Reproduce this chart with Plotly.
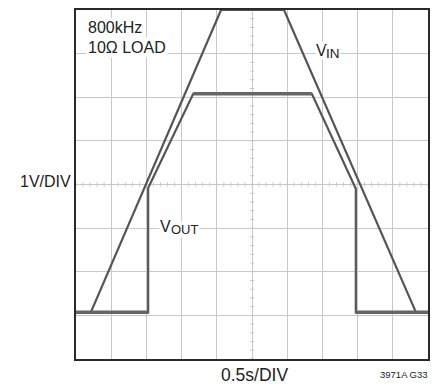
import plotly.graph_objects as go

# Data in scope divisions (x: 0.5 s/div, y: 1 V/div)
vin_x = [0.0, 0.42, 4.12, 5.91, 9.66, 10.0]
vin_y = [1.07, 1.07, 8.0, 8.0, 1.07, 1.07]

vout_x = [0.0, 2.05, 2.05, 3.33, 6.70, 7.95, 7.95, 10.0]
vout_y = [1.07, 1.07, 3.92, 6.08, 6.08, 3.90, 1.07, 1.07]

x_ticks = list(range(0, 11))
y_ticks = list(range(0, 9))

FONT = "Liberation Sans, Arial, sans-serif"
TRACE = "#555555"
GRID = "#c8c8c8"
INK = "#222222"

fig = go.Figure()

fig.add_trace(go.Scatter(x=vin_x, y=vin_y, mode="lines",
                         line=dict(color=TRACE, width=2.2),
                         showlegend=False, hoverinfo="skip"))
fig.add_trace(go.Scatter(x=vout_x, y=vout_y, mode="lines",
                         line=dict(color=TRACE, width=2.2),
                         showlegend=False, hoverinfo="skip"))
# noisy flat portions of VOUT drawn thicker
for a, b in [(0, 2), (3, 5), (6, 8)]:
    fig.add_trace(go.Scatter(x=vout_x[a:b], y=vout_y[a:b], mode="lines",
                             line=dict(color="#666666", width=3.5),
                             showlegend=False, hoverinfo="skip"))

shapes = []
for i in range(51):
    xv = i * 0.2
    shapes.append(dict(type="line", xref="x", yref="y", x0=xv, x1=xv, y0=3.95, y1=4.05,
                       line=dict(color=GRID, width=1), layer="below"))
for i in range(41):
    yv = i * 0.2
    shapes.append(dict(type="line", xref="x", yref="y", x0=4.94, x1=5.06, y0=yv, y1=yv,
                       line=dict(color=GRID, width=1), layer="below"))

fig.update_layout(
    width=437, height=383,
    margin=dict(l=68, r=17, t=0, b=32),
    paper_bgcolor="white", plot_bgcolor="white",
    shapes=shapes,
    xaxis=dict(range=[0, 10], tickvals=x_ticks, showticklabels=False, ticks="",
               showgrid=True, gridcolor=GRID, gridwidth=1, zeroline=False,
               showline=True, linecolor="#2a2a2a", linewidth=1.6, mirror=True, fixedrange=True),
    yaxis=dict(range=[0, 8], tickvals=y_ticks, showticklabels=False, ticks="",
               showgrid=True, gridcolor=GRID, gridwidth=1, zeroline=False,
               showline=True, linecolor="#2a2a2a", linewidth=1.6, mirror=True, fixedrange=True),
    font=dict(family=FONT, color=INK),
)


def label(text, x, y, size=16, xanchor="left", bg="white", ref="x", pad=1):
    fig.add_annotation(text=text, x=x, y=y, xref=ref if ref == "x" else "paper",
                       yref="y" if ref == "x" else "paper", showarrow=False,
                       font=dict(family=FONT, size=size, color=INK),
                       xanchor=xanchor, yanchor="middle", bgcolor=bg, borderpad=pad)


label("800kHz", 0.27, 7.61)
label("10Ω LOAD", 0.27, 7.13)
label("V", 6.79, 7.08, pad=0)
label("IN", 7.08, 7.01, size=13.5, pad=0)
label("V", 2.37, 3.03, pad=0)
label("OUT", 2.68, 2.97, size=13, pad=0)
label("1V/DIV", -0.0085, 0.51, xanchor="right", bg="rgba(0,0,0,0)", ref="paper")
label("0.5s/DIV", 0.508, -0.047, size=17.5, xanchor="center", bg="rgba(0,0,0,0)", ref="paper")
label("3971A G33", 1.006, -0.044, size=9.5, xanchor="right", bg="rgba(0,0,0,0)", ref="paper")

fig.write_html("out.html")
